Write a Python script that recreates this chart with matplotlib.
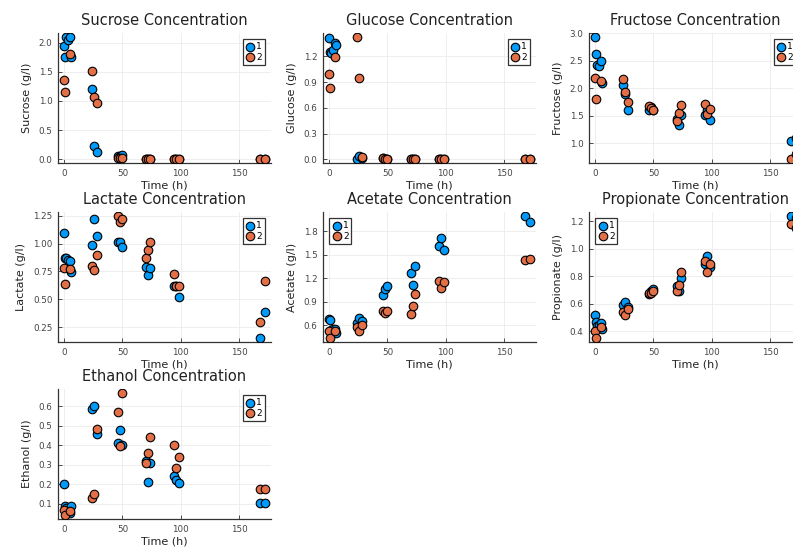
import numpy as np
import matplotlib
matplotlib.use("Agg")
from matplotlib import pyplot as plt

# sampling times (h) for the two series
t1 = [0, 1, 2, 3, 5, 6, 24, 26, 28, 46, 48, 50, 70, 72, 74, 94, 96, 98, 168, 172]
t2 = [0, 1, 5, 24, 26, 28, 46, 48, 50, 70, 72, 74, 94, 96, 98, 168, 172]

sucrose1 = [1.94, 1.76, 2.10, 2.05, 2.10, 1.76, 1.20, 0.23, 0.12, 0.06, 0.05, 0.08,
            0.0, 0.0, 0.0, 0.0, 0.0, 0.0, 0.0, 0.0]
sucrose2 = [1.36, 1.16, 1.80, 1.52, 1.07, 0.96, 0.03, 0.02, 0.02, 0.0, 0.0, 0.0,
            0.0, 0.0, 0.0, 0.0, 0.0]

glucose1 = [1.41, 1.25, 1.24, 1.28, 1.36, 1.33, 0.0, 0.04, 0.01, 0.01, 0.0, 0.0,
            0.0, 0.0, 0.0, 0.0, 0.0, 0.0, 0.0, 0.0]
glucose2 = [0.99, 0.83, 1.19, 1.43, 0.95, 0.03, 0.02, 0.0, 0.0, 0.0, 0.0, 0.0,
            0.0, 0.0, 0.0, 0.0, 0.0]

fructose1 = [2.94, 2.63, 2.43, 2.41, 2.50, 2.10, 2.07, 1.89, 1.61, 1.61, 1.66, 1.61,
             1.44, 1.34, 1.51, 1.52, 1.61, 1.43, 1.05, 1.10]
fructose2 = [2.19, 1.81, 2.14, 2.17, 1.94, 1.76, 1.68, 1.65, 1.61, 1.41, 1.55, 1.70,
             1.72, 1.53, 1.63, 0.71, 0.80]

lactate1 = [1.095, 0.872, 0.866, 0.85, 0.84, 0.744, 0.99, 1.217, 1.07, 1.018, 1.018, 0.967,
            0.79, 0.72, 0.785, 0.62, 0.62, 0.52, 0.15, 0.39]
lactate2 = [0.78, 0.64, 0.77, 0.80, 0.76, 0.90, 1.25, 1.196, 1.22, 0.872, 0.94, 1.01,
            0.73, 0.62, 0.62, 0.30, 0.66]

acetate1 = [0.68, 0.66, 0.54, 0.55, 0.55, 0.50, 0.63, 0.69, 0.65, 0.99, 1.06, 1.10,
            1.27, 1.11, 1.36, 1.61, 1.71, 1.56, 2.00, 1.92]
acetate2 = [0.52, 0.43, 0.52, 0.57, 0.52, 0.60, 0.78, 0.75, 0.78, 0.74, 0.85, 1.00,
            1.17, 1.08, 1.15, 1.43, 1.45]

propionate1 = [0.52, 0.47, 0.44, 0.45, 0.46, 0.42, 0.59, 0.61, 0.58, 0.67, 0.69, 0.71,
               0.73, 0.69, 0.79, 0.89, 0.945, 0.87, 1.24, 1.22]
propionate2 = [0.40, 0.35, 0.43, 0.54, 0.52, 0.56, 0.68, 0.68, 0.69, 0.69, 0.74, 0.83,
               0.91, 0.83, 0.89, 1.18, 1.15]

ethanol1 = [0.20, 0.09, 0.08, 0.065, 0.05, 0.086, 0.585, 0.60, 0.46, 0.41, 0.48, 0.40,
            0.32, 0.21, 0.31, 0.24, 0.22, 0.205, 0.105, 0.105]
ethanol2 = [0.068, 0.04, 0.06, 0.13, 0.15, 0.485, 0.57, 0.395, 0.67, 0.31, 0.36, 0.44,
            0.40, 0.285, 0.34, 0.175, 0.175]

names = ["Sucrose", "Glucose", "Fructose", "Lactate", "Acetate", "Propionate", "Ethanol"]
series = [(sucrose1, sucrose2), (glucose1, glucose2), (fructose1, fructose2),
          (lactate1, lactate2), (acetate1, acetate2), (propionate1, propionate2),
          (ethanol1, ethanol2)]
yticks = [
    (np.arange(0, 2.01, 0.5), "%.1f"),
    (np.arange(0, 1.21, 0.3), "%.1f"),
    (np.arange(1.0, 3.01, 0.5), "%.1f"),
    (np.arange(0.25, 1.26, 0.25), "%.2f"),
    (np.arange(0.6, 1.81, 0.3), "%.1f"),
    (np.arange(0.4, 1.21, 0.2), "%.1f"),
    (np.arange(0.1, 0.61, 0.1), "%.1f"),
]
legend_loc = ["upper right", "upper right", "upper right", "upper right",
              "upper left", "upper left", "upper right"]

c1 = "#009AFA"
c2 = "#E36F47"

fig = plt.figure(figsize=(7.93, 5.49), dpi=100)

W, H = 793, 549
col_left = [58, 323, 589]
row_top = [33, 212, 389]
aw, ah = 213, 130

for i, name in enumerate(names):
    r, c = divmod(i, 3)
    ax = fig.add_axes([col_left[c] / W, 1 - (row_top[r] + ah) / H, aw / W, ah / H])
    y1, y2 = series[i]
    ax.scatter(t1, y1, s=38, color=c1, edgecolor="black", linewidth=0.8, label="1", zorder=3)
    ax.scatter(t2, y2, s=38, color=c2, edgecolor="black", linewidth=0.8, label="2", zorder=3)
    ax.margins(0.03)
    ax.set_xticks([0, 50, 100, 150])
    ticks, fmt = yticks[i]
    ax.set_yticks(ticks)
    ax.set_yticklabels([fmt % v for v in ticks])
    ax.grid(True, color="#ebebeb", linewidth=0.6)
    ax.set_axisbelow(True)
    for s in ["top", "right"]:
        ax.spines[s].set_visible(False)
    for s in ["left", "bottom"]:
        ax.spines[s].set_color("#333333")
        ax.spines[s].set_linewidth(0.9)
    ax.tick_params(direction="in", length=3, width=0.6, labelsize=6.3,
                   colors="#333333", labelcolor="#444444", pad=4)
    ax.set_title(name + " Concentration", fontsize=10.5, color="#222222", pad=6)
    ax.set_xlabel("Time (h)", fontsize=8, color="#222222", labelpad=2)
    ax.set_ylabel(name + " (g/l)", fontsize=8, color="#222222", labelpad=5)
    leg = ax.legend(loc=legend_loc[i], fontsize=6.5, fancybox=False, framealpha=1,
                    handletextpad=0.2, borderpad=0.3, labelspacing=0.2,
                    handlelength=1.0, borderaxespad=0.7)
    leg.get_frame().set_edgecolor("#333333")
    leg.get_frame().set_linewidth(0.9)

plt.savefig("out.png", dpi=100)
